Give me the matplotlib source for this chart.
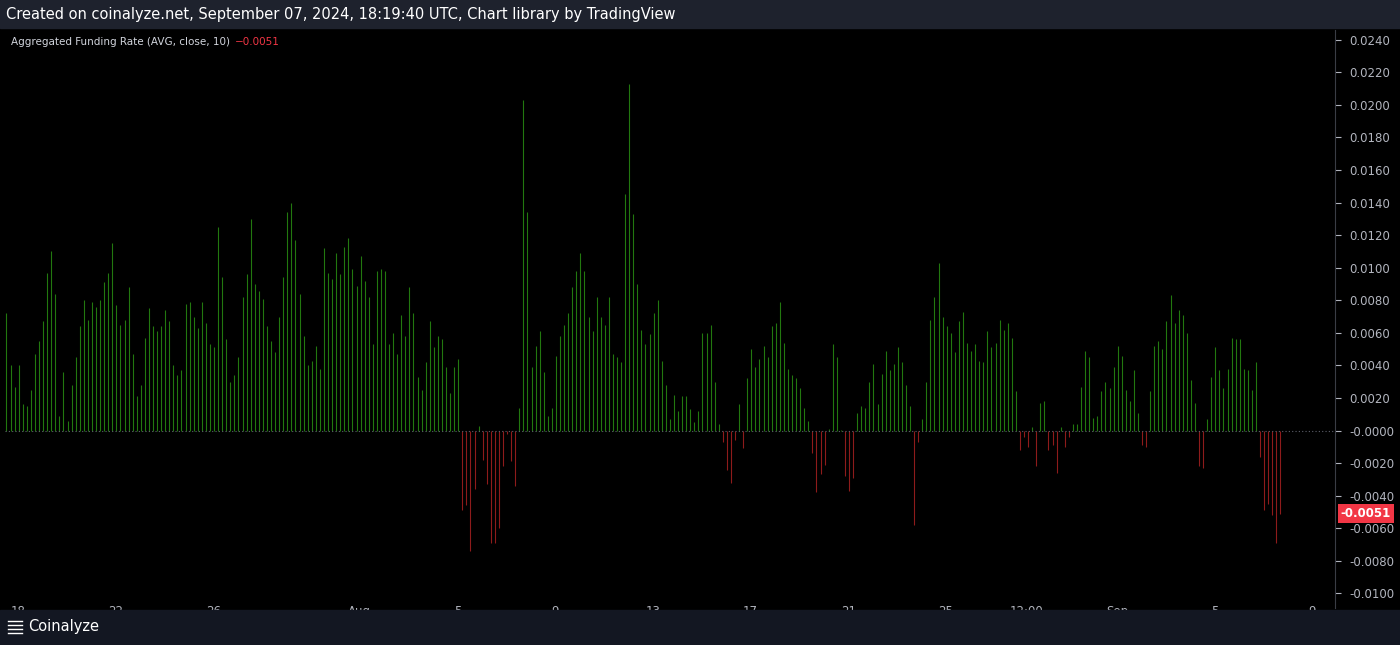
import numpy as np
import matplotlib
matplotlib.use("Agg")
import matplotlib.pyplot as plt

# ── Data: aggregated funding rate, 4h bars starting Jul 17 12:00 ─────────────
funding = [
    0.0072, 0.0040, 0.0027, 0.0040, 0.0016, 0.0015, 0.0025, 0.0047, 0.0055, 0.0067,
    0.0097, 0.0110, 0.0084, 0.0009, 0.0036, 0.0006, 0.0028, 0.0045, 0.0064, 0.0080,
    0.0068, 0.0079, 0.0076, 0.0080, 0.0091, 0.0097, 0.0115, 0.0077, 0.0065, 0.0068,
    0.0088, 0.0047, 0.0021, 0.0028, 0.0057, 0.0075, 0.0064, 0.0061, 0.0064, 0.0074,
    0.0067, 0.0040, 0.0034, 0.0037, 0.0078, 0.0079, 0.0070, 0.0063, 0.0079, 0.0066,
    0.0053, 0.0051, 0.0125, 0.0094, 0.0056, 0.0030, 0.0034, 0.0045, 0.0082, 0.0096,
    0.0130, 0.0090, 0.0086, 0.0081, 0.0064, 0.0055, 0.0048, 0.0070, 0.0094, 0.0134,
    0.0140, 0.0117, 0.0084, 0.0058, 0.0040, 0.0043, 0.0052, 0.0038, 0.0112, 0.0097,
    0.0093, 0.0109, 0.0096, 0.0113, 0.0118, 0.0099, 0.0089, 0.0107, 0.0092, 0.0082,
    0.0053, 0.0098, 0.0099, 0.0098, 0.0053, 0.0060, 0.0047, 0.0071, 0.0058, 0.0088,
    0.0072, 0.0033, 0.0025, 0.0042, 0.0067, 0.0051, 0.0058, 0.0056, 0.0039, 0.0023,
    0.0039, 0.0044,
    # Aug 5 dip
    -0.0049, -0.0046, -0.0074, -0.0036, 0.0003, -0.0018, -0.0033, -0.0069, -0.0069, -0.0060,
    -0.0022, -0.0002, -0.0019, -0.0034, 0.0014, 0.0203, 0.0134, 0.0039, 0.0052, 0.0061,
    0.0036, 0.0009, 0.0014, 0.0046, 0.0058, 0.0065, 0.0072, 0.0088, 0.0098, 0.0109,
    0.0098, 0.0070, 0.0061, 0.0082, 0.0070, 0.0065, 0.0082, 0.0047, 0.0045, 0.0042,
    0.0145, 0.0213, 0.0133, 0.0090, 0.0062, 0.0053, 0.0059, 0.0072, 0.0080, 0.0043,
    0.0028, 0.0007, 0.0022, 0.0012, 0.0021, 0.0021, 0.0013, 0.0005, 0.0012, 0.0060,
    0.0060, 0.0065, 0.0030, 0.0004, -0.0007, -0.0024, -0.0032, -0.0006, 0.0016, -0.0011,
    0.0032, 0.0050, 0.0039, 0.0044, 0.0052, 0.0045, 0.0064, 0.0066, 0.0079, 0.0054,
    0.0038, 0.0034, 0.0032, 0.0026, 0.0014, 0.0006, -0.0014, -0.0038, -0.0027, -0.0021,
    0.0001, 0.0053, 0.0045, 0.00003, -0.0028, -0.0037, -0.0029, 0.0011, 0.0015, 0.0014,
    0.0030, 0.0041, 0.0016, 0.0035, 0.0049, 0.0037, 0.0041, 0.0051, 0.0042, 0.0028,
    0.0015, -0.0058, -0.0007, 0.0007, 0.0030, 0.0068, 0.0082, 0.0103, 0.0070, 0.0064,
    0.0060, 0.0048, 0.0067, 0.0073, 0.0054, 0.0049, 0.0053, 0.0043, 0.0042, 0.0061,
    0.0051, 0.0054, 0.0068, 0.0062, 0.0066, 0.0057, 0.0024, -0.0012, -0.0004, -0.0010,
    0.0002, -0.0022, 0.0017, 0.0018, -0.0012, -0.0009, -0.0026, 0.0002, -0.0010, -0.0004,
    0.0004, 0.0004, 0.0027, 0.0049, 0.0045, 0.0008, 0.0009, 0.0024, 0.0030, 0.0026,
    0.0039, 0.0052, 0.0046, 0.0025, 0.0018, 0.0037, 0.0011, -0.0009, -0.0010, 0.0024,
    0.0052, 0.0055, 0.0050, 0.0067, 0.0083, 0.0066, 0.0074, 0.0071, 0.0060, 0.0031,
    0.0017, -0.0022, -0.0023, 0.0007, 0.0033, 0.0051, 0.0037, 0.0026, 0.0038, 0.0057,
    0.0056, 0.0056, 0.0038, 0.0037, 0.0025, 0.0042, -0.0016, -0.0049, -0.0045, -0.0052,
    -0.0069, -0.0051,
]
start_day = -0.47          # first bar, days since Jul 18 00:00
bar_step = 1 / 6           # 4h bars

tick_days = [0, 4, 8, 14, 18, 22, 26, 30, 34, 38, 41.3, 45, 49, 53]
tick_labels = ["18", "22", "26", "Aug", "5", "9", "13", "17", "21", "25",
               "12:00", "Sep", "5", "9"]
y_ticks = [0.024, 0.022, 0.020, 0.018, 0.016, 0.014, 0.012, 0.010, 0.008, 0.006,
           0.004, 0.002, 0.0, -0.002, -0.004, -0.006, -0.008, -0.010]
last_value = -0.0051

# ── Figure ──────────────────────────────────────────────────────────────────
W, H = 1400, 645
fig = plt.figure(figsize=(14, 6.45), dpi=100)
fig.patch.set_facecolor("#000000")

# header and footer bands
fig.patches.append(plt.Rectangle((0, 1 - 28 / H), 1, 28 / H, transform=fig.transFigure,
                                 color="#1e222d", zorder=0))
fig.patches.append(plt.Rectangle((0, 0), 1, 35 / H, transform=fig.transFigure,
                                 color="#131722", zorder=0))
fig.text(6 / W, 1 - 14 / H, "Created on coinalyze.net, September 07, 2024, 18:19:40 UTC, Chart library by TradingView",
         color="white", fontsize=10.5, va="center", ha="left")
fig.text(28 / W, 18 / H, "Coinalyze", color="white", fontsize=10.5, va="center", ha="left")
for dy in (12, 16, 20, 24):
    fig.lines.append(plt.Line2D([8 / W, 22 / W], [dy / H, dy / H], transform=fig.transFigure,
                                color="white", linewidth=1))

ax = fig.add_axes([5 / W, 1 - 608 / H, 1330 / W, 578 / H])
ax.set_facecolor("#000000")

x = start_day + bar_step * np.arange(len(funding))
vals = np.array(funding)
colors = np.where(vals >= 0, "#22780f", "#8e1b1b")
ax.vlines(x, 0, vals, colors=colors, linewidth=0.8)
ax.axhline(0, color="#5d606b", linewidth=0.8, linestyle=(0, (1, 2)))

ax.set_xlim(-0.53, 53.93)
ax.set_ylim(-0.0109, 0.0246)

ax.yaxis.tick_right()
ax.set_yticks(y_ticks)
ax.set_yticklabels([("-" if v <= 0 else "") + f"{abs(v):.4f}" for v in y_ticks])
ax.tick_params(axis="y", colors="#b2b5be", labelsize=8.5, length=4, pad=6)
ax.set_xticks(tick_days)
ax.set_xticklabels(tick_labels)
ax.tick_params(axis="x", colors="#b2b5be", labelsize=8.5, length=0, pad=-2)
for side in ("top", "left", "bottom"):
    ax.spines[side].set_visible(False)
ax.spines["right"].set_color("#3a3d45")

# last value badge
ax.annotate(f"{last_value:.4f}", xy=(1, last_value), xycoords=("axes fraction", "data"),
            xytext=(4, 0), textcoords="offset points", va="center", ha="left",
            color="white", fontsize=8.5, fontweight="bold",
            bbox=dict(boxstyle="square,pad=0.25", fc="#f23645", ec="none"))

# legend line
ax.text(6 / 1330, 1 - 12 / 578, "Aggregated Funding Rate (AVG, close, 10)",
        transform=ax.transAxes, color="#d1d4dc", fontsize=7.5, va="center")
ax.text(230 / 1330, 1 - 12 / 578, "\u22120.0051", transform=ax.transAxes,
        color="#f23645", fontsize=7.5, va="center")

fig.savefig("out.png", dpi=100, facecolor=fig.get_facecolor())
